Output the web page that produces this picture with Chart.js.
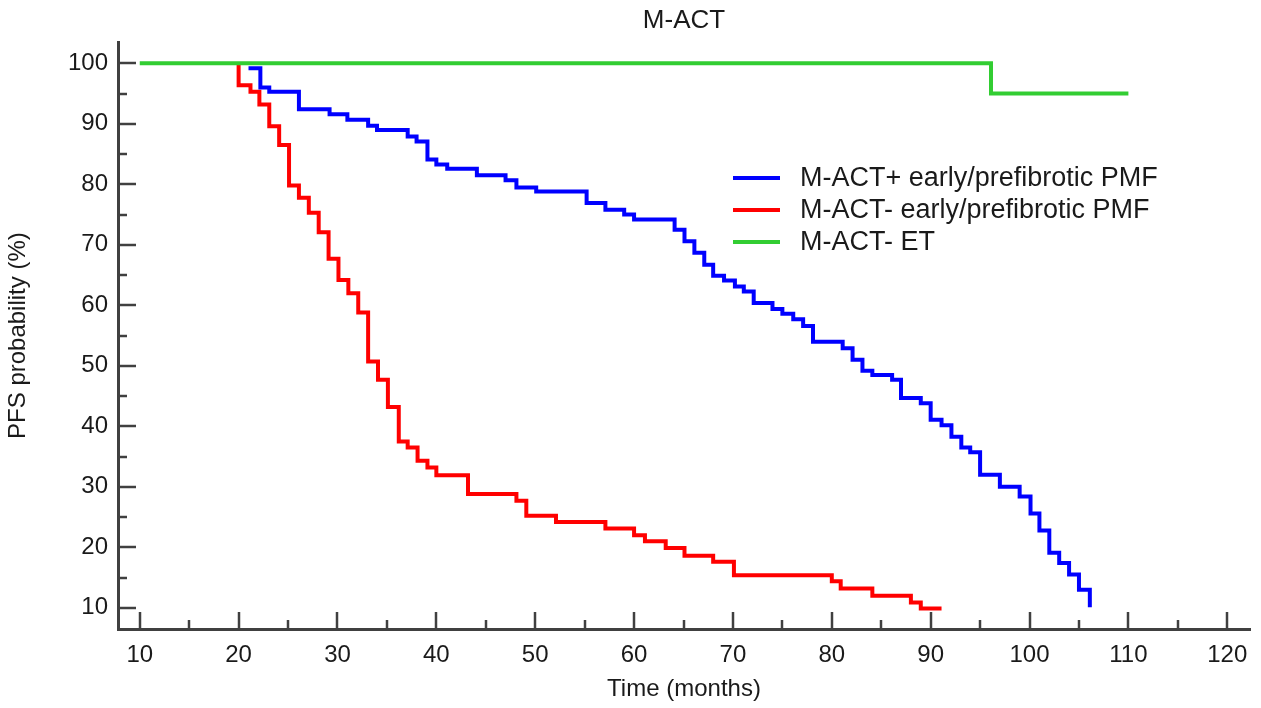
<!DOCTYPE html>
<html>
<head>
<meta charset="utf-8">
<script src="https://cdn.jsdelivr.net/npm/chart.js@4"></script>
<style>
  body { margin: 0; background: #fff; }
  #wrap { width: 1261px; height: 708px; }
</style>
</head>
<body>
<div id="wrap"><canvas id="kmChart" width="1261" height="708"></canvas></div>
<script>
// series labels and colours
const seriesLabels = ["M-ACT+ early/prefibrotic PMF", "M-ACT- early/prefibrotic PMF", "M-ACT- ET"];
const seriesColors = ["rgb(0, 0, 255)", "rgb(255, 0, 0)", "rgb(50, 205, 50)"];

// M-ACT+ early/prefibrotic PMF (time in months, PFS %)
const posPmfTime = [21.0, 22.2, 23.1, 26.1, 29.2, 31.0, 33.1, 34.0, 37.1, 38.0, 39.1, 40.0, 41.1, 44.1, 47.0, 48.1, 50.1, 55.2, 57.1, 59.0, 60.0, 64.1, 65.1, 66.1, 67.1, 68.0, 69.1, 70.2, 71.1, 72.1, 74.0, 75.0, 76.1, 77.1, 78.1, 81.1, 82.1, 83.1, 84.1, 86.1, 87.0, 89.0, 90.0, 91.1, 92.1, 93.1, 94.0, 95.0, 97.0, 99.0, 100.1, 101.0, 102.0, 103.0, 104.0, 105.0, 106.1];
const posPmfPfs = [99.2, 96.0, 95.3, 92.4, 91.6, 90.7, 89.7, 89.0, 87.9, 87.1, 84.1, 83.3, 82.6, 81.5, 80.7, 79.5, 78.8, 76.9, 75.8, 75.0, 74.2, 72.5, 70.6, 68.7, 66.7, 64.9, 64.1, 63.1, 62.3, 60.4, 59.4, 58.6, 57.7, 56.6, 54.0, 52.9, 51.0, 49.2, 48.5, 47.7, 44.7, 43.8, 41.1, 40.2, 38.3, 36.5, 35.7, 32.0, 30.0, 28.4, 25.6, 22.8, 19.1, 17.4, 15.5, 13.0, 10.1];

// M-ACT- early/prefibrotic PMF
const negPmfTime = [20.0, 20.0, 21.2, 22.1, 23.1, 24.1, 25.1, 26.1, 27.1, 28.1, 29.1, 30.1, 31.1, 32.1, 33.1, 34.1, 35.1, 36.2, 37.1, 38.1, 39.1, 40.0, 43.2, 48.1, 49.1, 52.1, 57.1, 60.0, 61.1, 63.2, 65.1, 68.0, 70.1, 80.0, 80.9, 84.1, 88.0, 89.0, 91.1];
const negPmfPfs = [100, 96.4, 95.3, 93.2, 89.6, 86.5, 79.8, 77.8, 75.3, 72.1, 67.7, 64.2, 62.0, 58.8, 50.7, 47.7, 43.2, 37.5, 36.5, 34.3, 33.2, 31.9, 28.8, 27.7, 25.2, 24.2, 23.1, 22.0, 21.0, 19.9, 18.6, 17.6, 15.4, 14.4, 13.2, 12.0, 10.9, 9.9, 9.9];

// M-ACT- ET
const negEtTime = [10, 96.1, 110];
const negEtPfs = [100, 95.0, 95.0];

// axis ticks
const xTickValues = [10, 20, 30, 40, 50, 60, 70, 80, 90, 100, 110, 120];
const xMinorValues = [15, 25, 35, 45, 55, 65, 75, 85, 95, 105, 115];
const yTickValues = [10, 20, 30, 40, 50, 60, 70, 80, 90, 100];
const yMinorValues = [15, 25, 35, 45, 55, 65, 75, 85, 95];

const fontFamily = "'Liberation Sans', Arial, sans-serif";
const textColor = "#1a1a1a";
const axisColor = "#404040";

const toPoints = (times, values) => times.map((t, i) => ({ x: t, y: values[i] }));

const inwardTicks = {
  id: "inwardTicks",
  afterDraw(chart) {
    const { ctx } = chart;
    const x = chart.scales.x;
    const y = chart.scales.y;
    ctx.save();
    ctx.strokeStyle = axisColor;
    ctx.lineWidth = 2.5;
    const mark = (x1, y1, x2, y2) => {
      ctx.beginPath();
      ctx.moveTo(x1, y1);
      ctx.lineTo(x2, y2);
      ctx.stroke();
    };
    xTickValues.forEach((v) => {
      const px = Math.round(x.getPixelForValue(v));
      mark(px, x.top, px, x.top - 17);
    });
    xMinorValues.forEach((v) => {
      const px = Math.round(x.getPixelForValue(v));
      mark(px, x.top, px, x.top - 9);
    });
    yTickValues.forEach((v) => {
      const py = Math.round(y.getPixelForValue(v));
      mark(y.right, py, y.right + 18, py);
    });
    yMinorValues.forEach((v) => {
      const py = Math.round(y.getPixelForValue(v));
      mark(y.right, py, y.right + 9, py);
    });
    ctx.restore();
  },
};

const innerLegend = {
  id: "innerLegend",
  afterDraw(chart) {
    const { ctx } = chart;
    ctx.save();
    ctx.font = "27px " + fontFamily;
    ctx.textBaseline = "middle";
    ctx.fillStyle = textColor;
    ctx.lineWidth = 4;
    seriesLabels.forEach((label, i) => {
      const rowY = 178 + i * 32;
      ctx.strokeStyle = seriesColors[i];
      ctx.beginPath();
      ctx.moveTo(733, rowY);
      ctx.lineTo(780, rowY);
      ctx.stroke();
      ctx.fillText(label, 800, rowY + 1);
    });
    ctx.restore();
  },
};

const ctx = document.getElementById("kmChart").getContext("2d");

const kmChart = new Chart(ctx, {
  type: "line",
  data: {
    datasets: [
      {
        label: seriesLabels[0],
        data: toPoints(posPmfTime, posPmfPfs),
        borderColor: seriesColors[0],
        order: 1,
      },
      {
        label: seriesLabels[1],
        data: toPoints(negPmfTime, negPmfPfs),
        borderColor: seriesColors[1],
        order: 2,
      },
      {
        label: seriesLabels[2],
        data: toPoints(negEtTime, negEtPfs),
        borderColor: seriesColors[2],
        order: 0,
      },
    ],
  },
  options: {
    responsive: false,
    animation: false,
    devicePixelRatio: 1,
    elements: {
      line: { borderWidth: 4, stepped: true, fill: false, borderJoinStyle: "miter", borderCapStyle: "butt" },
      point: { radius: 0, hoverRadius: 0 },
    },
    layout: { padding: { left: 0, right: 11, top: 0, bottom: 0 } },
    plugins: {
      legend: { display: false },
      tooltip: { enabled: false },
      title: {
        display: true,
        text: "M-ACT",
        fullSize: false,
        color: textColor,
        font: { family: fontFamily, size: 26, weight: "normal" },
        padding: { top: 5, bottom: 6 },
      },
    },
    scales: {
      x: {
        type: "linear",
        position: "bottom",
        min: 7.8,
        max: 122.3,
        grid: { display: false, drawTicks: false },
        border: { display: true, color: axisColor, width: 3 },
        ticks: { color: textColor, font: { family: fontFamily, size: 24 }, padding: 12, maxRotation: 0 },
        title: {
          display: true,
          text: "Time (months)",
          color: textColor,
          font: { family: fontFamily, size: 24 },
          padding: { top: 0, bottom: 4 },
        },
        afterBuildTicks: (scale) => {
          scale.ticks = xTickValues.map((v) => ({ value: v }));
        },
        afterFit: (scale) => {
          scale.height = 79;
        },
      },
      y: {
        type: "linear",
        min: 6.5,
        max: 103.5,
        grid: { display: false, drawTicks: false },
        border: { display: true, color: axisColor, width: 3 },
        ticks: { color: textColor, font: { family: fontFamily, size: 24 }, padding: 10 },
        title: {
          display: true,
          text: "PFS probability (%)",
          color: textColor,
          font: { family: fontFamily, size: 24 },
          padding: { top: 4, bottom: 0 },
        },
        afterBuildTicks: (scale) => {
          scale.ticks = yTickValues.map((v) => ({ value: v }));
        },
        afterFit: (scale) => {
          scale.width = 118;
        },
      },
    },
  },
  plugins: [inwardTicks, innerLegend],
});
</script>
</body>
</html>
